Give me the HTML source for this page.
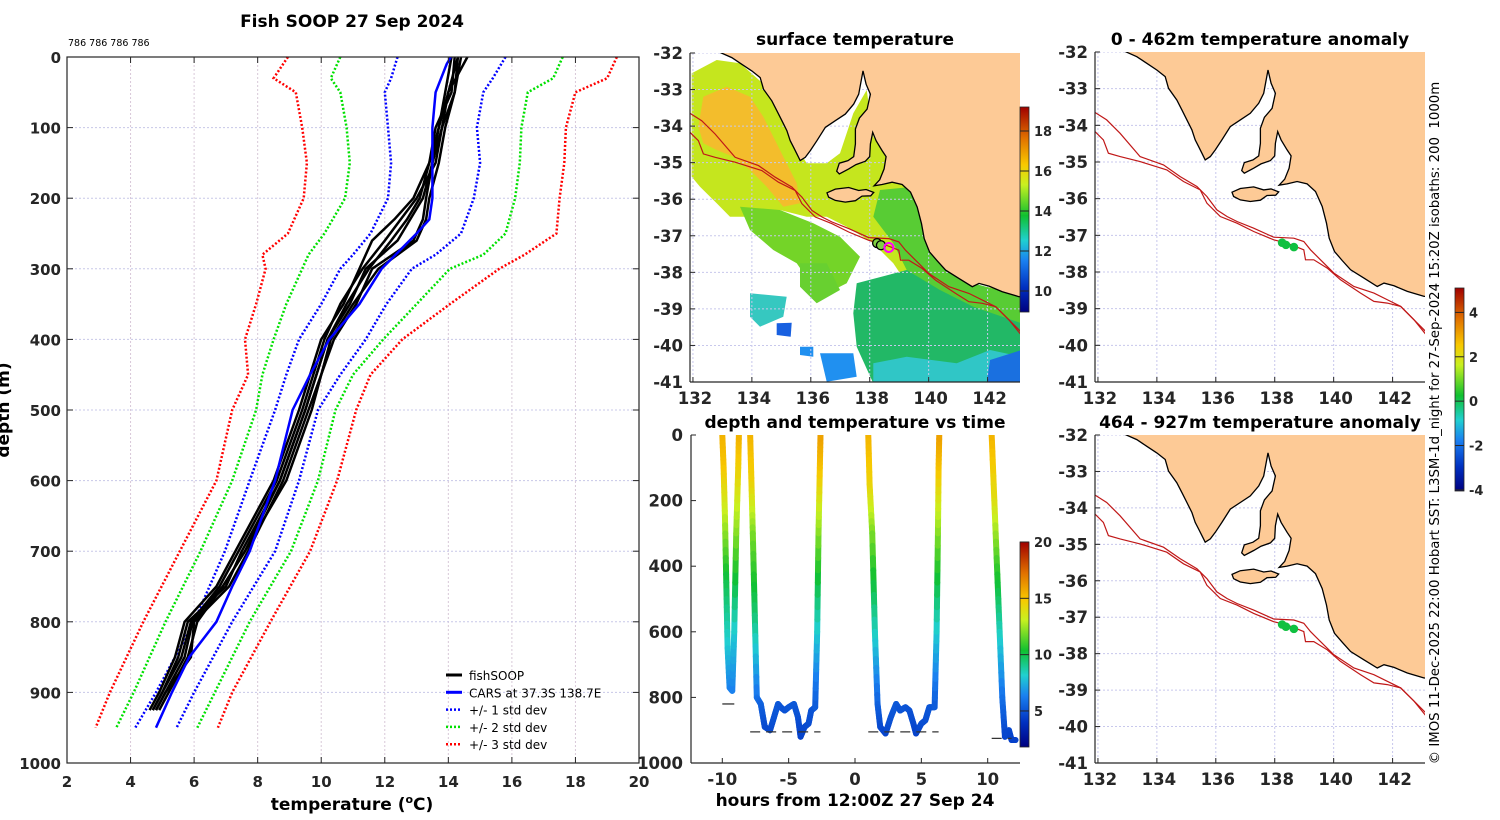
<!DOCTYPE html>
<html><head><meta charset="utf-8"><style>
html,body{margin:0;padding:0;background:#fff;}
svg{display:block;font-family:"DejaVu Sans","Liberation Sans",sans-serif;}
.tk{font-size:15px;font-weight:bold;fill:#262626;}
.tm{font-size:16.5px;font-weight:bold;fill:#262626;}
.tt{font-size:17px;font-weight:bold;fill:#000;}
.lg{font-size:12px;fill:#000;}
</style></head><body>
<svg id="fig" width="1500" height="820" viewBox="0 0 1500 820" xmlns="http://www.w3.org/2000/svg">
<defs>
<linearGradient id="jet" x1="0" y1="1" x2="0" y2="0">
<stop offset="0" stop-color="#00007f"/><stop offset="0.12" stop-color="#0030c0"/><stop offset="0.25" stop-color="#1a80f0"/>
<stop offset="0.35" stop-color="#20d0d0"/><stop offset="0.47" stop-color="#10c030"/><stop offset="0.62" stop-color="#c8f020"/>
<stop offset="0.72" stop-color="#f8c800"/><stop offset="0.85" stop-color="#e07000"/><stop offset="1" stop-color="#a00000"/>
</linearGradient>
<clipPath id="clipSST"><rect x="690" y="53" width="330" height="329"/></clipPath>
<clipPath id="clipA1"><rect x="1095" y="52" width="330" height="330"/></clipPath>
<clipPath id="clipA2"><rect x="1095" y="435" width="330" height="328"/></clipPath>
<clipPath id="clipT"><rect x="691" y="435" width="329" height="328"/></clipPath>
</defs>
<g id="layer"></g>
</svg>
<script>
// ===== Profile panel data =====
const profDepths=[0,50,100,150,200,230,260,300,350,400,500,600,700,750,800,850,900,925];
const fish1=[14.1,13.9,13.7,13.5,13.3,13.2,12.9,11.6,11.1,10.4,9.6,8.8,7.7,7.1,6.0,5.9,5.1,4.8];
const fish2=[14.3,14.0,13.8,13.6,13.0,12.5,12.0,11.3,10.6,10.1,9.4,8.6,7.4,6.8,5.9,5.6,5.0,4.7];
const fish3=[14.4,14.2,13.9,13.7,13.4,13.3,13.0,11.8,11.0,10.3,9.7,8.9,7.6,6.9,6.1,5.8,5.2,4.9];
const fish4=[14.2,14.1,13.6,13.4,12.9,12.3,11.6,11.2,10.7,10.0,9.3,8.5,7.3,6.7,5.7,5.4,4.9,4.6];
const fish5=[14.3,14.2,13.8,13.5,13.2,12.8,12.4,11.4,10.9,10.2,9.5,8.7,7.5,7.0,5.8,5.5,5.0,4.7];
const fish6=[14.6,14.0,13.7,13.4,13.1,12.7,12.2,11.5,10.8,10.2,9.5,8.7,7.6,6.9,5.95,5.7,5.1,4.8];
const carsDepths=[0,10,50,100,150,200,230,250,300,350,400,450,500,600,700,750,800,850,900,950];
const carsT=[14.08,13.95,13.6,13.5,13.5,13.5,13.4,13.0,11.9,11.2,10.25,9.65,9.1,8.55,7.75,7.2,6.7,5.85,5.3,4.8];
const sdDepths=[0,30,50,100,150,200,250,280,300,350,400,450,500,600,700,800,900,950];
const sdM1=[12.4,12.2,12.0,12.1,12.2,12.1,11.55,11.0,10.6,10.0,9.3,8.9,8.55,7.75,6.97,6.0,4.8,4.15];
const sdP1=[15.8,15.4,15.1,14.9,15.0,14.8,14.4,13.6,12.85,12.05,11.4,10.6,9.9,9.3,8.55,7.2,6.0,5.45];
const sdM2=[10.6,10.3,10.6,10.8,10.9,10.75,10.1,9.6,9.4,8.9,8.5,8.15,7.95,7.2,6.2,5.1,4.1,3.55];
const sdP2=[17.6,17.3,16.5,16.3,16.25,16.1,15.8,15.1,14.05,13.0,11.95,11.0,10.45,9.9,9.05,7.75,6.65,6.1];
const sdM3=[8.95,8.5,9.2,9.4,9.55,9.45,8.95,8.15,8.25,7.95,7.6,7.7,7.2,6.7,5.55,4.4,3.35,2.9];
const sdP3=[19.3,19.0,18.0,17.7,17.65,17.5,17.4,16.4,15.6,14.05,12.55,11.55,11.1,10.5,9.65,8.4,7.2,6.75];
const tempTicks=[2,4,6,8,10,12,14,16,18,20];
const depthTicks=[0,100,200,300,400,500,600,700,800,900,1000];
// ===== Time panel data =====
const trackT=[[-10.0,-9.9,-9.8,-9.7,-9.6,-9.45,-9.25,-9.1,-8.95,-8.8,-8.75],
[-7.9,-7.8,-7.7,-7.55,-7.4,-7.1,-6.8,-6.4,-6.1,-5.8,-5.6,-5.3,-5.0,-4.6,-4.3,-4.1,-3.8,-3.5,-3.3,-3.0,-2.85,-2.75,-2.65,-2.6],
[1.0,1.1,1.3,1.5,1.7,1.9,2.3,2.7,3.1,3.4,3.8,4.1,4.4,4.6,5.0,5.3,5.6,6.0,6.15,6.25,6.3,6.35],
[10.3,10.5,10.7,10.9,11.1,11.3,11.6,11.8,12.1]];
const trackD=[[0,100,250,450,650,770,780,600,300,100,0],
[0,150,300,550,800,820,890,900,860,820,830,840,830,820,860,920,890,880,840,830,600,300,100,0],
[0,150,300,600,820,890,910,860,820,840,830,840,880,910,880,870,830,830,600,300,100,0],
[0,200,400,600,800,920,900,930,930]];
const trackTemp=[[15.5,15,13,10,8,6.5,6.3,8,12,14.5,15.5],
[15.5,14.5,12,9.5,6,5.5,4.8,4.7,5,5.2,5.1,5,5.1,5.2,5,4.5,4.7,4.8,5,5.1,8,12,15,16],
[15.5,14.5,12,8.5,5.5,4.8,4.6,5,5.2,5,5.1,5,4.8,4.5,4.8,4.9,5.1,5.1,8,12,15,16],
[15.5,14,11,8.5,6,4.6,4.7,4.5,4.5]];
const bottomDashStart=[-10,-7.9,1.0,10.3];
const bottomDashEnd=[-8.8,-2.6,6.3,11.8];
const bottomDashDepth=[820,905,905,925];
const hourTicks=[-10,-5,0,5,10];
const tDepthTicks=[0,200,400,600,800,1000];
// ===== Map data =====
const lonTicks=[132,134,136,138,140,142];
const latTicks=[-32,-33,-34,-35,-36,-37,-38,-39,-40,-41];
const fishLon=[138.25,138.38,138.65];
const fishLat=[-37.2,-37.26,-37.32];
const sstTicks=[10,12,14,16,18];
const timeCbTicks=[5,10,15,20];
const anomTicks=[-4,-2,0,2,4];

const NS='http://www.w3.org/2000/svg';
const layer=document.getElementById('layer');
function mk(tag,attrs,parent){const e=document.createElementNS(NS,tag);for(const k in attrs)e.setAttribute(k,attrs[k]);(parent||layer).appendChild(e);return e;}
function txt(x,y,s,cls,anchor,parent){const e=mk('text',{x:x,y:y,class:cls,'text-anchor':anchor||'middle'},parent);e.textContent=s;return e;}

// ---------- Left profile panel ----------
const PX0=67,PX1=639,PY0=57,PY1=763;
const px=t=>PX0+(t-2)/18*(PX1-PX0);
const py=d=>PY0+d/1000*(PY1-PY0);
const gP=mk('g',{});

tempTicks.forEach(t=>{if(t>2&&t<20){const l=mk('line',{x1:px(t),x2:px(t),y1:PY0,y2:PY1,stroke:'#d8c8d8','stroke-width':1,'stroke-dasharray':'2,2'},gP);}});
depthTicks.forEach(d=>{if(d>0&&d<1000){const l=mk('line',{x1:PX0,x2:PX1,y1:py(d),y2:py(d),stroke:'#c8c8e8','stroke-width':1,'stroke-dasharray':'2,2'},gP);}});
function polyline(xs,ys,attrs,parent,name){const pts=xs.map((x,i)=>x.toFixed(1)+','+ys[i].toFixed(1)).join(' ');const e=mk('polyline',Object.assign({points:pts,fill:'none'},attrs),parent);return e;}
[[sdM3,'#ff0000','sd3-minus'],[sdP3,'#ff0000','sd3-plus'],[sdM2,'#00e000','sd2-minus'],[sdP2,'#00e000','sd2-plus'],[sdM1,'#0000ff','sd1-minus'],[sdP1,'#0000ff','sd1-plus']].forEach(s=>{
 polyline(s[0].map(px),sdDepths.map(py),{stroke:s[1],'stroke-width':2.5,'stroke-dasharray':'2,2'},gP,s[2]+'-line');});
[fish1,fish2,fish3,fish4,fish5,fish6].forEach((f,i)=>polyline(f.map(px),profDepths.map(py),{stroke:'#000','stroke-width':2.5,'stroke-linejoin':'round'},gP,'fishsoop-profile-'+(i+1)));
polyline(carsT.map(px),carsDepths.map(py),{stroke:'#0000ff','stroke-width':2.5},gP,'cars-profile');
let fr=mk('rect',{x:PX0,y:PY0,width:PX1-PX0,height:PY1-PY0,fill:'none',stroke:'#262626','stroke-width':1.2},gP);
tempTicks.forEach(t=>{mk('line',{x1:px(t),x2:px(t),y1:PY1,y2:PY1-6,stroke:'#262626'},gP);mk('line',{x1:px(t),x2:px(t),y1:PY0,y2:PY0+6,stroke:'#262626'},gP);const e=txt(px(t),787,String(t),'tk','middle',gP);});
depthTicks.forEach(d=>{mk('line',{x1:PX0,x2:PX0+6,y1:py(d),y2:py(d),stroke:'#262626'},gP);mk('line',{x1:PX1,x2:PX1-6,y1:py(d),y2:py(d),stroke:'#262626'},gP);const e=txt(61,py(d)+6,String(d),'tk','end',gP);});
const legNames=['fishSOOP','CARS at 37.3S 138.7E','+/- 1 std dev','+/- 2 std dev','+/- 3 std dev'];
const legCols=['#000','#0000ff','#0000ff','#00e000','#ff0000'];
legNames.forEach((n,i)=>{const y=675+i*17.3;const g=mk('g',{},gP);
 mk('line',{x1:446,x2:462,y1:y,y2:y,stroke:legCols[i],'stroke-width':i<2?3:2.5,'stroke-dasharray':i<2?'none':'2,2'},g);txt(469,y+5,n,'lg','start',g);});

// ---------- Time panel ----------
const TX0=691,TX1=1020,TY0=435,TY1=763;
const tx=h=>855+h*13.27;
const ty=d=>TY0+d/1000*(TY1-TY0);
const gT=mk('g',{});
const stops=[[0,[0,0,127]],[0.12,[0,48,192]],[0.25,[26,128,240]],[0.35,[32,208,208]],[0.47,[16,192,48]],[0.62,[200,240,32]],[0.72,[248,200,0]],[0.85,[224,112,0]],[1,[160,0,0]]];
function cmap(v){v=Math.max(0,Math.min(1,v));for(let i=1;i<stops.length;i++){if(v<=stops[i][0]){const a=stops[i-1],b=stops[i],f=(v-a[0])/(b[0]-a[0]);const c=a[1].map((x,k)=>Math.round(x+(b[1][k]-x)*f));return 'rgb('+c.join(',')+')';}}return 'rgb(160,0,0)';}
const gTr=mk('g',{'clip-path':'url(#clipT)'},gT);
trackT.forEach((ts,s)=>{const ds=trackD[s],tp=trackTemp[s];const gs=mk('g',{},gTr);
 for(let i=0;i<ts.length-1;i++){const n=8;for(let k=0;k<n;k++){const f0=k/n,f1=(k+1)/n;
  const x0=tx(ts[i]+(ts[i+1]-ts[i])*f0),x1=tx(ts[i]+(ts[i+1]-ts[i])*f1),y0=ty(ds[i]+(ds[i+1]-ds[i])*f0),y1=ty(ds[i]+(ds[i+1]-ds[i])*f1);
  const T=tp[i]+(tp[i+1]-tp[i])*(f0+f1)/2;
  mk('line',{x1:x0,y1:y0,x2:x1,y2:y1,stroke:cmap((T-1.8)/18.2),'stroke-width':6,'stroke-linecap':'round'},gs);}}});
bottomDashStart.forEach((a,i)=>{const l=mk('line',{x1:tx(a),x2:tx(bottomDashEnd[i]),y1:ty(bottomDashDepth[i]),y2:ty(bottomDashDepth[i]),stroke:'#333','stroke-width':1.3,'stroke-dasharray':i==0?'12,6':'10,6'},gT);});
mk('line',{x1:TX0,x2:TX0,y1:TY0,y2:TY1,stroke:'#262626','stroke-width':1.2},gT);
mk('line',{x1:TX0,x2:TX1,y1:TY1,y2:TY1,stroke:'#262626','stroke-width':1.2},gT);
hourTicks.forEach(h=>{mk('line',{x1:tx(h),x2:tx(h),y1:TY1,y2:TY1-5,stroke:'#262626'},gT);const e=txt(tx(h),785,String(h),'tm','middle',gT);});
tDepthTicks.forEach(d=>{mk('line',{x1:TX0,x2:TX0+5,y1:ty(d),y2:ty(d),stroke:'#262626'},gT);const e=txt(683,ty(d)+6,String(d),'tm','end',gT);});

// ---------- Maps ----------
const coastRaw=[[250,62],[290,80],[320,100],[350,120],[375,140],[385,175],[410,210],[425,240],[440,270],[455,300],[465,330],[475,350],[485,370],[495,390],[510,380],[525,360],[545,330],[570,290],[600,270],[630,250],[655,220],[670,190],[683,120],[692,160],[705,190],[695,235],[672,262],[660,295],[660,340],[655,378],[638,390],[612,398],[604,422],[612,430],[640,415],[662,402],[690,392],[703,378],[705,340],[712,305],[722,330],[740,360],[752,378],[746,415],[733,448],[716,466],[740,462],[770,455],[800,462],[825,485],[845,530],[858,580],[866,625],[882,665],[905,692],[930,720],[970,745],[1010,770],[1030,760],[1060,768],[1100,785],[1150,800],[1170,800],[1170,62]];
const kiRaw=[[575,487],[600,476],[640,471],[670,480],[692,477],[715,486],[706,496],[680,497],[660,511],[630,515],[600,510],[580,500]];
const iso200Raw=[[150,238],[200,270],[240,310],[300,380],[370,405],[420,440],[470,470],[500,500],[530,540],[560,560],[590,575],[640,595],[700,622],[760,625],[790,635],[810,660],[840,690],[880,730],[940,770],[1000,790],[1050,815],[1080,830],[1120,870],[1170,920]];
const iso1000Raw=[[150,290],[190,330],[205,370],[240,380],[300,395],[380,420],[430,455],[480,480],[500,520],[540,560],[590,580],[640,605],[700,630],[740,640],[790,660],[795,690],[820,690],[860,715],[900,750],[960,790],[1000,815],[1040,820],[1080,830],[1120,870],[1170,932]];
const toLL=p=>[131.9+(p[0]/3-55)/29.4,-32-(p[1]/3-22)/36.7];
const coastLL=coastRaw.map(toLL),kiLL=kiRaw.map(toLL),iso200LL=iso200Raw.map(toLL),iso1000LL=iso1000Raw.map(toLL);
function makeMap(X0,Y0,Y1,clip,name,sst){
 const W=330,lx=lon=>X0+(lon-131.9)/11.2*W,ly=lat=>Y0+(-32-lat)/9*(Y1-Y0);
 const g=mk('g',{});
 const gc=mk('g',{'clip-path':'url(#'+clip+')'},g);
 if(sst)sst(gc);
 lonTicks.forEach(l=>{mk('line',{x1:lx(l),x2:lx(l),y1:Y0,y2:Y1,stroke:'#c8c8ec','stroke-width':1,'stroke-dasharray':'2,2'},gc);});
 latTicks.forEach(l=>{mk('line',{x1:X0,x2:X0+W,y1:ly(l),y2:ly(l),stroke:'#c8c8ec','stroke-width':1,'stroke-dasharray':'2,2'},gc);});
 const pp=arr=>arr.map(p=>lx(p[0]).toFixed(1)+','+ly(p[1]).toFixed(1)).join(' ');
 let land=mk('polygon',{points:pp(coastLL),fill:'#fdca96',stroke:'#000','stroke-width':1.3},gc);
 let ki=mk('polygon',{points:pp(kiLL),fill:'#fdca96',stroke:'#000','stroke-width':1.3},gc);
 let i1=mk('polyline',{points:pp(iso200LL),fill:'none',stroke:'#c01818','stroke-width':1.2},gc);
 let i2=mk('polyline',{points:pp(iso1000LL),fill:'none',stroke:'#c01818','stroke-width':1.2},gc);
 mk('line',{x1:X0,x2:X0,y1:Y0,y2:Y1,stroke:'#262626','stroke-width':1.2},g);
 mk('line',{x1:X0,x2:X0+W,y1:Y1,y2:Y1,stroke:'#262626','stroke-width':1.2},g);
 lonTicks.forEach(l=>{mk('line',{x1:lx(l),x2:lx(l),y1:Y1,y2:Y1-5,stroke:'#262626'},g);const e=txt(lx(l)+2,Y1+22,String(l),'tm','middle',g);});
 latTicks.forEach(l=>{mk('line',{x1:X0,x2:X0+5,y1:ly(l),y2:ly(l),stroke:'#262626'},g);const e=txt(X0-7,ly(l)+6,String(l),'tm','end',g);});
 return {g,lx,ly,gc};
}
function sstPatches(gc){
 const P=(pts,c,n)=>{const e=mk('polygon',{points:pts.map(p=>(640+p[0]/3).toFixed(1)+','+(30+p[1]/3).toFixed(1)).join(' '),fill:c},gc);};
 P([[155,130],[230,90],[300,100],[380,170],[420,250],[470,350],[500,400],[560,400],[600,370],[640,250],[680,180],[700,320],[740,380],[780,460],[840,480],[880,560],[900,680],[980,760],[1145,790],[1145,910],[1050,860],[900,800],[800,760],[760,700],[700,640],[620,590],[560,560],[500,560],[420,540],[350,560],[270,560],[230,520],[180,470],[155,440]],'#c5e61e','sst-warm-shelf');
 P([[190,200],[260,170],[330,200],[370,260],[400,320],[430,380],[470,460],[480,520],[430,530],[380,470],[330,420],[280,380],[230,360],[190,340],[175,290]],'#f3bd2c','sst-orange-patch');
 P([[300,530],[420,540],[520,580],[600,620],[660,680],[620,760],[540,800],[470,700],[400,660],[330,600]],'#74d428','sst-green-patch');
 P([[720,480],[820,470],[860,560],[900,680],[950,740],[1000,760],[1145,800],[1145,900],[1000,860],[880,800],[800,720],[760,640],[700,560]],'#58cc34','sst-coastal-green');
 P([[650,760],[800,720],[900,780],[1000,830],[1145,880],[1145,1060],[700,1060],[650,950],[640,850]],'#22b866','sst-southeast-teal');
 P([[700,1000],[800,980],[950,1000],[1050,960],[1145,980],[1145,1060],[700,1060]],'#30c6c6','sst-cyan-patch');
 P([[1050,990],[1145,960],[1145,1060],[1040,1060]],'#1a70e0','sst-blue-patch');
 P([[330,790],[440,800],[430,860],[360,890],[330,860]],'#36c8c0','sst-cyan-west');
 P([[410,880],[455,878],[452,920],[410,915]],'#1860e0','sst-blue-small');
 P([[480,950],[520,950],[520,980],[480,975]],'#2090f0','sst-blue-small-2');
 P([[540,970],[640,970],[650,1040],[560,1055]],'#2090f0','sst-blue-small-3');
 P([[480,700],[560,700],[600,780],[530,820],[480,770]],'#68d030','sst-green-south');
}
const m1=makeMap(690,53,382,'clipSST','sst-map',sstPatches);
fishLon.slice(0,2).forEach((l,i)=>{const c=mk('circle',{cx:m1.lx(l),cy:m1.ly(fishLat[i]),r:4.5,fill:'#7fd040',stroke:'#000','stroke-width':1.3},m1.g);});
let mc=mk('circle',{cx:m1.lx(fishLon[2]),cy:m1.ly(fishLat[2]),r:4.5,fill:'none',stroke:'#ff00ff','stroke-width':2},m1.g);
const m2=makeMap(1095,52,382,'clipA1','anomaly-map-shallow');
const m3=makeMap(1095,435,763,'clipA2','anomaly-map-deep');
[m2,m3].forEach(m=>fishLon.forEach((l,i)=>{const c=mk('circle',{cx:m.lx(l),cy:m.ly(fishLat[i]),r:4.3,fill:'#10c040'},m.g);}));

// ---------- Colorbars ----------
function cbar(x,y0,y1,vmin,vmax,ticks,name){const g=mk('g',{});
 mk('rect',{x:x,y:y0,width:9,height:y1-y0,fill:'url(#jet)',stroke:'#262626','stroke-width':0.8},g);
 ticks.forEach(t=>{const y=y1-(t-vmin)/(vmax-vmin)*(y1-y0);mk('line',{x1:x,x2:x+9,y1:y,y2:y,stroke:'#262626','stroke-width':1},g);const e=txt(x+14,y+5,String(t),'tk','start',g);e.setAttribute('style','font-size:13px');});}
cbar(1020,107,312,8.95,19.2,sstTicks,'sst-colorbar');
cbar(1020,542,747,1.8,20,timeCbTicks,'time-colorbar');
cbar(1455,288,491,-4.05,5.1,anomTicks,'anomaly-colorbar');

// ---------- Titles / labels ----------
[[352,27,'Fish SOOP 27 Sep 2024','profile-title'],[855,45,'surface temperature','sst-title'],[1260,45,'0 - 462m temperature anomaly','anomaly-shallow-title'],[855,428,'depth and temperature vs time','time-title'],[1260,428,'464 - 927m temperature anomaly','anomaly-deep-title'],[855,806,'hours from 12:00Z 27 Sep 24','time-x-axis-title']].forEach(a=>{const e=txt(a[0],a[1],a[2],'tt');});
let xt=mk('text',{x:352,y:810,class:'tt','text-anchor':'middle'});
xt.innerHTML='temperature (<tspan dy="-7" font-size="11">o</tspan><tspan dy="7">C)</tspan>';
let yt=txt(0,0,'depth (m)','tt');yt.setAttribute('transform','translate(9,410) rotate(-90)');
let cnt=txt(68,46,'786 786 786 786','lg','start');cnt.setAttribute('style','font-size:9.5px');
let cr=txt(0,0,'© IMOS 11-Dec-2025 22:00 Hobart SST: L3SM-1d_night for 27-Sep-2024 15:20Z isobaths: 200  1000m','lg','middle');
cr.setAttribute('transform','translate(1439,423) rotate(-90)');cr.setAttribute('style','font-size:13.3px;white-space:pre');
</script>
</body></html>
